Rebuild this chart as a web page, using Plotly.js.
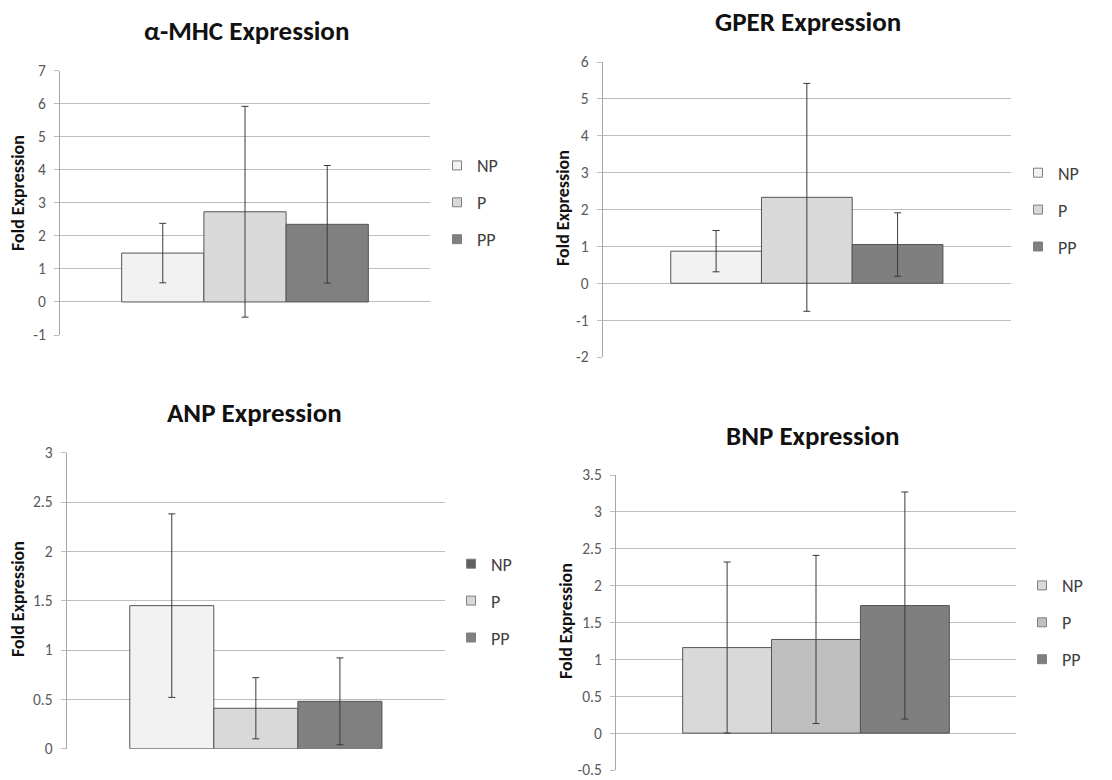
<!DOCTYPE html>
<html>
<head>
<meta charset="utf-8">
<script src="https://cdn.plot.ly/plotly-3.0.1.min.js"></script>
<style>html,body{margin:0;padding:0;background:#fff;}#chart{width:1112px;height:780px;}</style>
</head>
<body>
<div id="chart"></div>
<script>
// ---- data ----
const groups = ['NP', 'P', 'PP'];
const panelTitles = ['α-MHC Expression', 'GPER Expression', 'ANP Expression', 'BNP Expression'];
const yAxisTitle = 'Fold Expression';
const alphaMHC = [1.48, 2.73, 2.35];
const alphaMHCErr = [0.90, 3.19, 1.78];
const gper = [0.87, 2.33, 1.05];
const gperErr = [0.56, 3.09, 0.86];
const anp = [1.45, 0.41, 0.48];
const anpErr = [0.93, 0.31, 0.44];
const bnp = [1.16, 1.27, 1.73];
const bnpErr = [1.16, 1.14, 1.54];
const alphaTicks = [-1, 0, 1, 2, 3, 4, 5, 6, 7];
const alphaTickText = ['-1', '0', '1', '2', '3', '4', '5', '6', '7'];
const gperTicks = [-2, -1, 0, 1, 2, 3, 4, 5, 6];
const gperTickText = ['-2', '-1', '0', '1', '2', '3', '4', '5', '6'];
const anpTicks = [0, 0.5, 1, 1.5, 2, 2.5, 3];
const anpTickText = ['0', '0.5', '1', '1.5', '2', '2.5', '3'];
const bnpTicks = [-0.5, 0, 0.5, 1, 1.5, 2, 2.5, 3, 3.5];
const bnpTickText = ['-0.5', '0', '0.5', '1', '1.5', '2', '2.5', '3', '3.5'];

// ---- styles ----
const FONT = 'Carlito, Calibri, Lato, sans-serif';
const barColors = [
  ['#f2f2f2', '#d9d9d9', '#808080'],
  ['#f2f2f2', '#d9d9d9', '#7f7f7f'],
  ['#f2f2f2', '#d9d9d9', '#808080'],
  ['#d9d9d9', '#bfbfbf', '#7f7f7f']
];
const legendColors = [
  ['#f2f2f2', '#d9d9d9', '#808080'],
  ['#f2f2f2', '#d9d9d9', '#7f7f7f'],
  ['#5f5f5f', '#d9d9d9', '#808080'],
  ['#d9d9d9', '#bfbfbf', '#7f7f7f']
];
const values = [alphaMHC, gper, anp, bnp];
const errors = [alphaMHCErr, gperErr, anpErr, bnpErr];
const tickVals = [alphaTicks, gperTicks, anpTicks, bnpTicks];
const tickTexts = [alphaTickText, gperTickText, anpTickText, bnpTickText];

const W = 1112, H = 780;
// plot areas in pixels: [x0, x1, yTop, yBottom]
const boxes = [
  [60, 430, 70.7, 335],
  [602.7, 1011, 62, 357],
  [66.7, 445, 452.7, 748.7],
  [616, 1016, 475, 770]
];
const titlePos = [[246, 31], [808, 21], [254, 412], [813, 435]];
const yTitlePos = [[18, 193], [563, 208], [18, 599], [566, 621]];
const legendPos = [[437, 202.7], [1018, 210], [451, 601], [1022, 622.7]];

const data = [];
const layout = {
  width: W, height: H,
  margin: {l: 0, r: 0, t: 0, b: 0},
  paper_bgcolor: '#fff', plot_bgcolor: '#fff',
  showlegend: true,
  bargap: 0,
  font: {family: FONT, color: '#595959'},
  annotations: []
};

for (let i = 0; i < 4; i++) {
  const s = i === 0 ? '' : String(i + 1);
  const xa = 'x' + s, ya = 'y' + s, lg = 'legend' + s;
  data.push({
    type: 'bar', x: groups, y: values[i],
    xaxis: xa, yaxis: ya, showlegend: false,
    marker: {color: barColors[i], line: {color: '#555555', width: 1}},
    error_y: {type: 'data', array: errors[i], visible: true, color: '#3a3a3a', thickness: 1, width: 3.5}
  });
  for (let g = 0; g < 3; g++) {
    data.push({
      type: 'scatter', mode: 'markers', x: [null], y: [null],
      xaxis: xa, yaxis: ya, name: groups[g], legend: lg, legendgroup: 'g' + i + g,
      marker: {symbol: 'square', size: 9, color: legendColors[i][g], line: {color: '#7f7f7f', width: 1}}
    });
  }
  const b = boxes[i];
  layout['xaxis' + s] = {
    domain: [b[0] / W, b[1] / W], anchor: ya, type: 'category',
    range: [-1.25, 3.25], showticklabels: false, showgrid: false, zeroline: false,
    showline: false, ticks: '', fixedrange: true
  };
  layout['yaxis' + s] = {
    domain: [1 - b[3] / H, 1 - b[2] / H], anchor: xa,
    range: [tickVals[i][0], tickVals[i][tickVals[i].length - 1]],
    tickmode: 'array', tickvals: tickVals[i], ticktext: tickTexts[i],
    showgrid: true, gridcolor: '#bdbdbd', gridwidth: 1, zeroline: false,
    showline: true, linecolor: '#a6a6a6', linewidth: 1,
    ticks: 'outside', ticklen: 5, tickcolor: '#bdbdbd',
    ticklabelstandoff: 5,
    tickfont: {family: FONT, size: 15.5, color: '#595959'}, fixedrange: true
  };
  layout[lg] = {
    x: legendPos[i][0] / W, y: 1 - legendPos[i][1] / H,
    xanchor: 'left', yanchor: 'middle',
    font: {family: FONT, size: 18, color: '#404040'},
    tracegroupgap: 10.5, bgcolor: 'rgba(0,0,0,0)', borderwidth: 0
  };
  layout.annotations.push({
    xref: 'paper', yref: 'paper', x: titlePos[i][0] / W, y: 1 - titlePos[i][1] / H,
    xanchor: 'center', yanchor: 'middle', showarrow: false,
    text: '<b>' + panelTitles[i] + '</b>',
    font: {family: FONT, size: 27, color: '#111'}
  });
  layout.annotations.push({
    xref: 'paper', yref: 'paper', x: yTitlePos[i][0] / W, y: 1 - yTitlePos[i][1] / H,
    xanchor: 'center', yanchor: 'middle', showarrow: false, textangle: -90,
    text: '<b>' + yAxisTitle + '</b>',
    font: {family: FONT, size: 18, color: '#111'}
  });
}

Plotly.newPlot('chart', data, layout, {staticPlot: true, displayModeBar: false});
</script>
</body>
</html>
